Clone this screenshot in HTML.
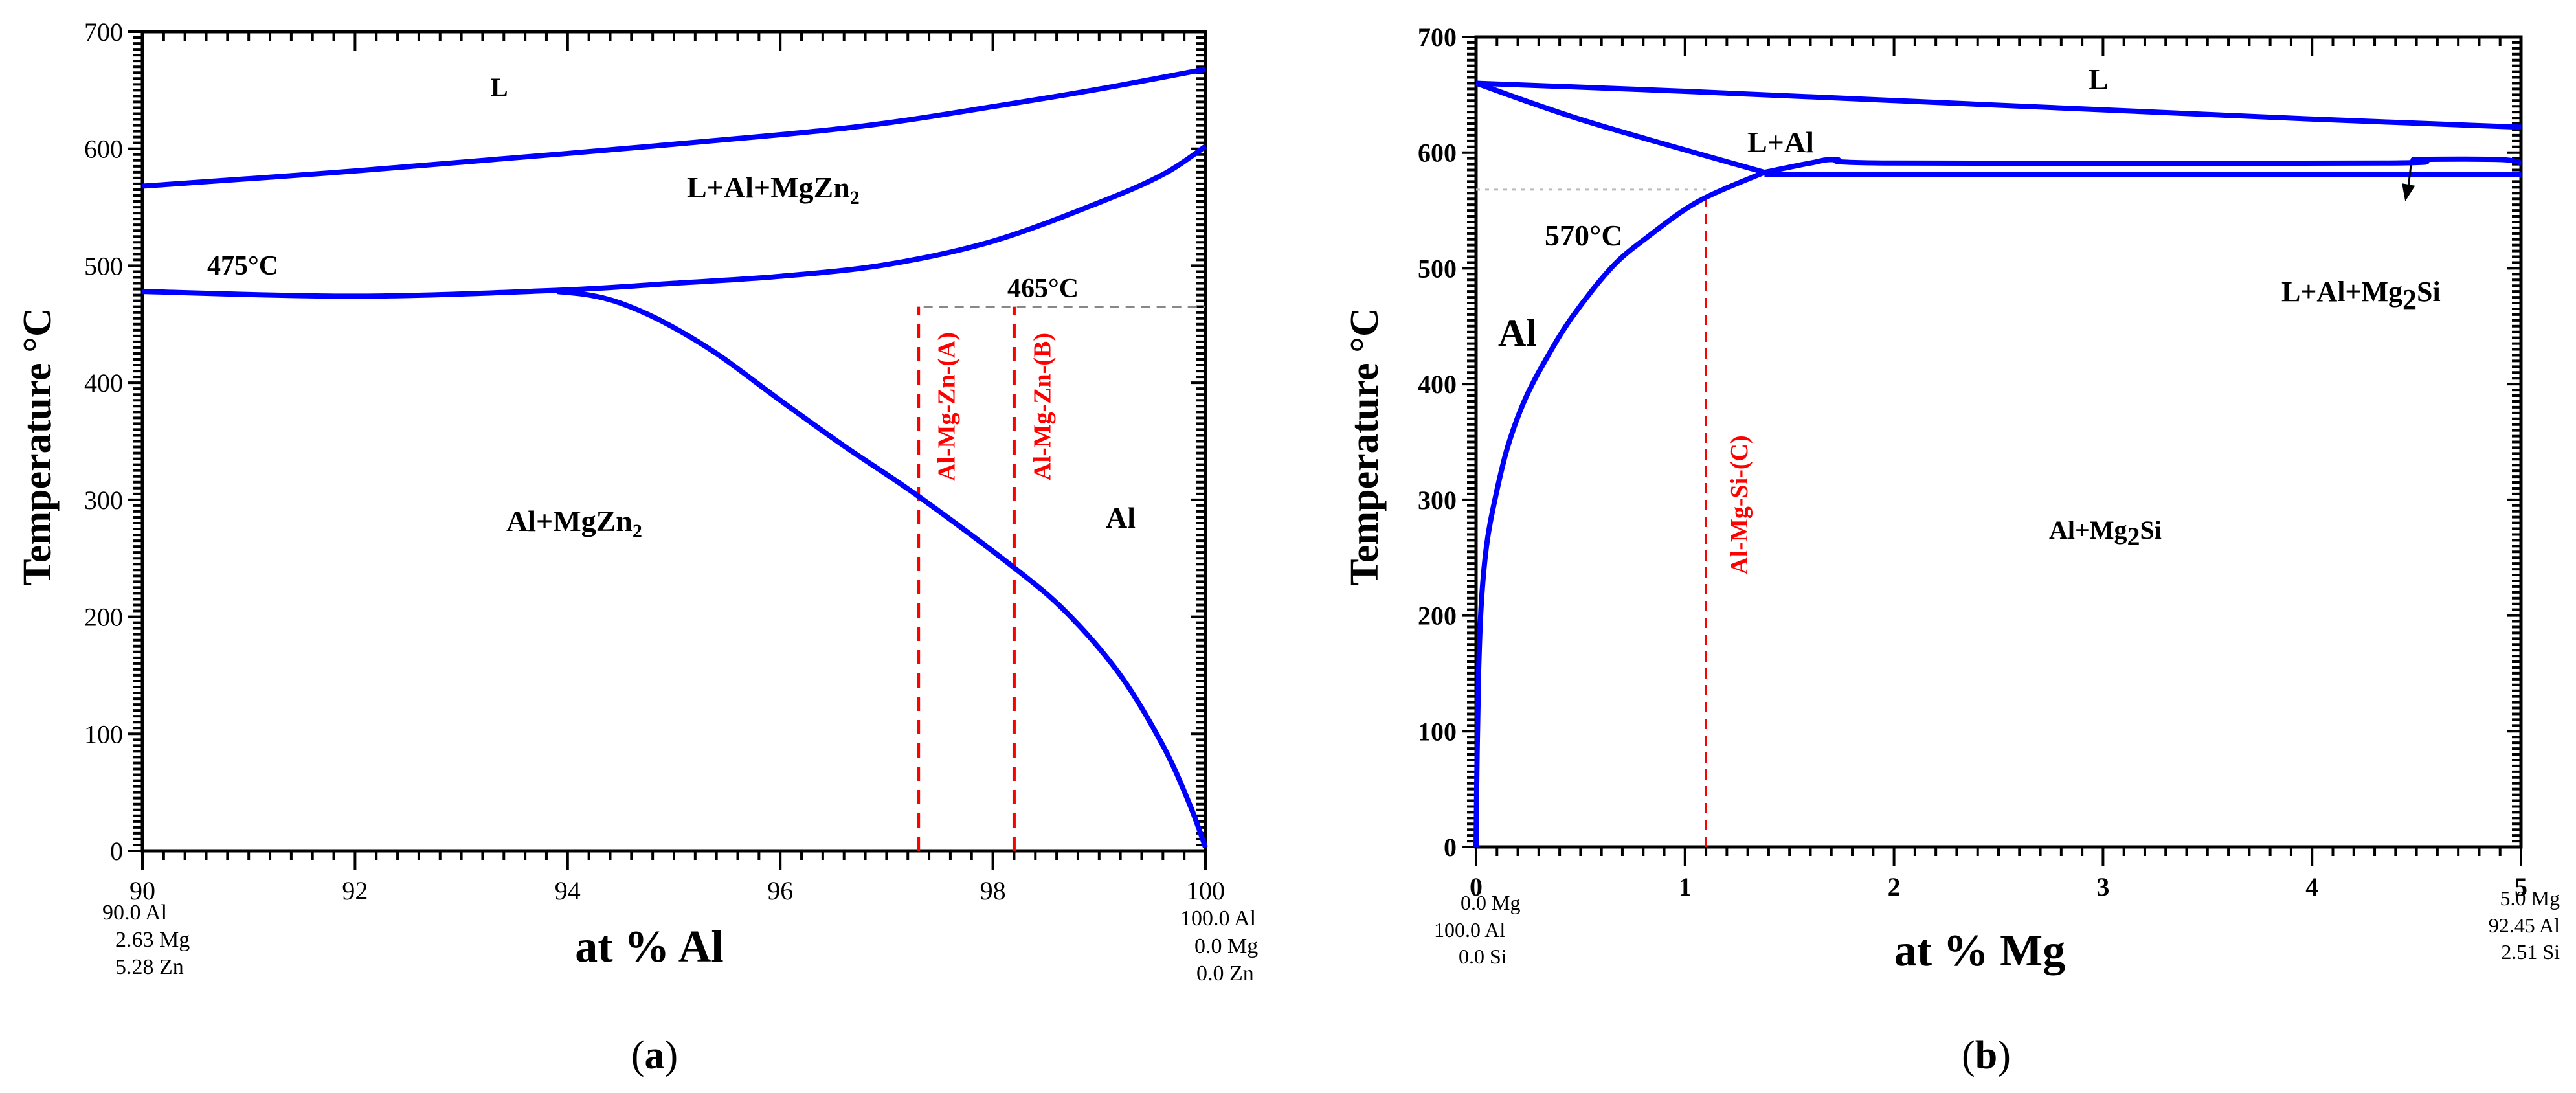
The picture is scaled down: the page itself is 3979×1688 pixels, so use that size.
<!DOCTYPE html>
<html><head><meta charset="utf-8"><style>
html,body{margin:0;padding:0;background:#fff;}
svg{display:block;font-family:"Liberation Serif",serif;}
</style></head><body>
<svg id="fig" width="3979" height="1688" viewBox="0 0 3979 1688" xmlns="http://www.w3.org/2000/svg">
<g id="pa"></g>
<g id="pb"></g>
</svg>
<script>
// ---------- Panel (a) data ----------
const aXTicks = [90, 92, 94, 96, 98, 100];
const aYTicks = [0, 100, 200, 300, 400, 500, 600, 700];
const aLiquidusX = [90, 92, 94, 96, 97, 98, 99, 100];
const aLiquidusT = [568, 581, 596, 612, 622, 636, 651, 668];
const aUpperX = [90, 92, 93.9, 95, 96, 97, 98, 99, 99.6, 100];
const aUpperT = [478, 474, 479, 485, 491, 501, 521, 554, 578, 602];
const aSolvusX = [93.9, 94.2, 94.5, 94.9, 95.4, 96, 96.6, 97.3, 98.2, 98.7, 99.2, 99.6, 99.85, 100];
const aSolvusT = [478, 475, 468, 452, 425, 385, 346, 303, 242, 203, 150, 90, 40, 3];
const aAlloyX = [97.3, 98.2];
const aAlloyNames = ["Al-Mg-Zn-(A)", "Al-Mg-Zn-(B)"];
const aSolidusRef = 465;

// ---------- Panel (b) data ----------
const bXTicks = [0, 1, 2, 3, 4, 5];
const bYTicks = [0, 100, 200, 300, 400, 500, 600, 700];
const bLiquidusX = [0, 1, 2, 3, 4, 5];
const bLiquidusT = [660, 653, 645, 637, 629, 622];
const bLAlX = [0, 0.53, 1.38];
const bLAlT = [660, 627, 583];
const bUpperX = [1.38, 1.6, 1.72, 2.0, 4.34, 4.5, 4.9, 5];
const bUpperT = [583, 591, 594, 591, 591, 594, 594, 591];
const bLowerX = [1.38, 5];
const bLowerT = [581, 581];
const bSolvusX = [0, 0.005, 0.012, 0.025, 0.05, 0.09, 0.15, 0.23, 0.33, 0.46, 0.65, 0.82, 1.065, 1.38];
const bSolvusT = [0, 80, 150, 210, 260, 300, 345, 385, 420, 458, 501, 527, 558, 583];
const bAlloyX = [1.1];
const bAlloyNames = ["Al-Mg-Si-(C)"];
const bSolvusRef = 568;

const NS = "http://www.w3.org/2000/svg";
function mk(parent, tag, attrs, text) {
  const e = document.createElementNS(NS, tag);
  for (const k in attrs) e.setAttribute(k, attrs[k]);
  if (text !== undefined) e.textContent = text;
  parent.appendChild(e);
  return e;
}
function lin(d0, d1, r0, r1) { return v => r0 + (v - d0) * (r1 - r0) / (d1 - d0); }
function smoothPath(pts) {
  let d = "M" + pts[0][0] + "," + pts[0][1];
  for (let i = 0; i < pts.length - 1; i++) {
    const p0 = pts[Math.max(0, i - 1)], p1 = pts[i], p2 = pts[i + 1], p3 = pts[Math.min(pts.length - 1, i + 2)];
    const c1 = [p1[0] + (p2[0] - p0[0]) / 6, p1[1] + (p2[1] - p0[1]) / 6];
    const c2 = [p2[0] - (p3[0] - p1[0]) / 6, p2[1] - (p3[1] - p1[1]) / 6];
    d += " C" + c1[0] + "," + c1[1] + " " + c2[0] + "," + c2[1] + " " + p2[0] + "," + p2[1];
  }
  return d;
}
function curve(g, xs, ts, X, Y, name) {
  const pts = xs.map((x, i) => [X(x), Y(ts[i])]);
  const p = mk(g, "path", {d: smoothPath(pts), fill: "none", stroke: "#0000ff", "stroke-width": 8, "stroke-linejoin": "round"});
  
  
}
function axes(g, X, Y, x0, x1, xTicks, yTicks, xMinor, boldTicks, tickFont) {
  const L = X(x0), R = X(x1), T = Y(700), B = Y(0);
  const frame = mk(g, "rect", {x: L, y: T, width: R - L, height: B - T, fill: "none", stroke: "#000", "stroke-width": 5});
  
  
  let d = "";
  for (let v = x0; v <= x1 + 1e-9; v += xMinor) {
    const x = X(v);
    const major = xTicks.some(t => Math.abs(t - v) < 1e-6);
    d += "M" + x + "," + B + "v" + (major ? 30 : 14);
    d += "M" + x + "," + T + "v" + (major ? 30 : 14);
  }
  for (let v = 0; v <= 700; v += 5) {
    const y = Y(v);
    const major = v % 100 === 0;
    d += "M" + L + "," + y + "h" + (major ? -22 : -14);
    d += "M" + R + "," + y + "h" + (major ? -22 : -14);
  }
  const tk = mk(g, "path", {d: d, stroke: "#000", "stroke-width": 4, fill: "none"});
  
  
  xTicks.forEach(t => {
    const e = mk(g, "text", {x: X(t), y: B + 75, "text-anchor": "middle", "font-size": tickFont, "font-weight": boldTicks ? "bold" : "normal"}, String(t));
    
    
  });
  yTicks.forEach(t => {
    const e = mk(g, "text", {x: L - 30, y: Y(t) + 14, "text-anchor": "end", "font-size": tickFont, "font-weight": boldTicks ? "bold" : "normal"}, String(t));
    
    
  });
}
function label(g, x, y, size, html, name, opts) {
  opts = opts || {};
  const e = mk(g, "text", Object.assign({x: x, y: y, "font-size": size, "font-weight": "bold"}, opts));
  e.innerHTML = html;
  
  
  return e;
}

// ---------- Panel (a) ----------
(function () {
  const g = document.getElementById("pa");
  const X = lin(90, 100, 220, 1862), Y = lin(0, 700, 1314, 49);
  axes(g, X, Y, 90, 100, aXTicks, aYTicks, 0.2, false, 40);
  const ref = mk(g, "line", {x1: X(aAlloyX[0]) + 8, y1: Y(aSolidusRef), x2: X(100), y2: Y(aSolidusRef), stroke: "#888", "stroke-width": 3, "stroke-dasharray": "14 10"});
  
  
  aAlloyX.forEach((ax, i) => {
    const l = mk(g, "line", {x1: X(ax), y1: Y(0), x2: X(ax), y2: Y(aSolidusRef), stroke: "#ff0000", "stroke-width": 5, "stroke-dasharray": "22 14"});
    
    
    const t = mk(g, "text", {x: 0, y: 0, "font-size": 38, "font-weight": "bold", fill: "#ff0000", "text-anchor": "middle", transform: "translate(" + (X(ax) + 56) + "," + 628 + ") rotate(-90)"}, aAlloyNames[i]);
    
    
  });
  curve(g, aLiquidusX, aLiquidusT, X, Y, 'liquidus-curve');
  curve(g, aUpperX, aUpperT, X, Y, 'three-phase-boundary');
  curve(g, aSolvusX, aSolvusT, X, Y, 'solvus-curve');
  label(g, 758, 148, 40, "L", "region-label-L");
  label(g, 1061, 305, 46, 'L+Al+MgZn<tspan font-size="30" dy="10">2</tspan>', "region-label-L-Al-MgZn2");
  label(g, 320, 424, 42, "475°C", "temp-label-475");
  label(g, 1556, 459, 42, "465°C", "temp-label-465");
  label(g, 782, 820, 46, 'Al+MgZn<tspan font-size="30" dy="10">2</tspan>', "region-label-Al-MgZn2");
  label(g, 1708, 815, 46, "Al", "region-label-Al");
  label(g, 0, 0, 62, "Temperature °C", "y-axis-title", {"text-anchor": "middle", transform: "translate(78,690) rotate(-90)"});
  label(g, 1003, 1485, 70, "at % Al", "x-axis-title", {"text-anchor": "middle"});
  [["90.0 Al", 158, 1420], ["2.63 Mg", 178, 1462], ["5.28 Zn", 178, 1504]].forEach(c => {
    const e = mk(g, "text", {x: c[1], y: c[2], "font-size": 34}, c[0]);
    
    
  });
  [["100.0 Al", 1823, 1429], ["0.0 Mg", 1845, 1472], ["0.0 Zn", 1848, 1514]].forEach(c => {
    const e = mk(g, "text", {x: c[1], y: c[2], "font-size": 34}, c[0]);
    
    
  });
  const cap = mk(g, "text", {x: 1011, y: 1650, "font-size": 62, "text-anchor": "middle"});
  cap.innerHTML = '(<tspan font-weight="bold">a</tspan>)';
  
  
})();

// ---------- Panel (b) ----------
(function () {
  const g = document.getElementById("pb");
  const X = lin(0, 5, 2280, 3894), Y = lin(0, 700, 1308, 57);
  axes(g, X, Y, 0, 5, bXTicks, bYTicks, 0.1, true, 40);
  const ref = mk(g, "line", {x1: X(0), y1: Y(bSolvusRef), x2: X(bAlloyX[0]), y2: Y(bSolvusRef), stroke: "#bbb", "stroke-width": 3, "stroke-dasharray": "6 8"});
  
  
  bAlloyX.forEach((ax, i) => {
    const l = mk(g, "line", {x1: X(ax), y1: Y(0), x2: X(ax), y2: Y(bSolvusRef - 3), stroke: "#ff0000", "stroke-width": 3.5, "stroke-dasharray": "16 10"});
    
    
    const t = mk(g, "text", {x: 0, y: 0, "font-size": 38, "font-weight": "bold", fill: "#ff0000", "text-anchor": "middle", transform: "translate(" + (X(ax) + 64) + "," + 780 + ") rotate(-90)"}, bAlloyNames[i]);
    
    
  });
  curve(g, bLiquidusX, bLiquidusT, X, Y, 'liquidus-line');
  curve(g, bLAlX, bLAlT, X, Y, 'l-al-boundary');
  curve(g, bUpperX, bUpperT, X, Y, 'three-phase-upper-line');
  curve(g, bLowerX, bLowerT, X, Y, 'three-phase-lower-line');
  curve(g, bSolvusX, bSolvusT, X, Y, 'al-solvus-curve');
  const ar = mk(g, "path", {d: "M3724,255 L3720,290 M3712,285 L3716,307 L3728,288 Z", stroke: "#000", "stroke-width": 3, fill: "#000"});
  
  
  label(g, 3226, 138, 46, "L", "region-label-L");
  label(g, 2699, 235, 46, "L+Al", "region-label-L-Al");
  label(g, 2386, 379, 46, "570°C", "temp-label-570");
  label(g, 2314, 534, 60, "Al", "region-label-Al");
  label(g, 3524, 465, 44, 'L+Al+Mg<tspan font-size="44" dy="12">2</tspan><tspan dy="-12">Si</tspan>', "region-label-L-Al-Mg2Si");
  label(g, 3165, 832, 40, 'Al+Mg<tspan dy="10">2</tspan><tspan dy="-10">Si</tspan>', "region-label-Al-Mg2Si");
  label(g, 0, 0, 62, "Temperature °C", "y-axis-title", {"text-anchor": "middle", transform: "translate(2128,690) rotate(-90)"});
  label(g, 3058, 1491, 70, "at % Mg", "x-axis-title", {"text-anchor": "middle"});
  [["0.0 Mg", 2256, 1405], ["100.0 Al", 2215, 1447], ["0.0 Si", 2253, 1488]].forEach(c => {
    const e = mk(g, "text", {x: c[1], y: c[2], "font-size": 32}, c[0]);
    
    
  });
  [["5.0 Mg", 1398], ["92.45 Al", 1440], ["2.51 Si", 1481]].forEach(c => {
    const e = mk(g, "text", {x: 3954, y: c[1], "font-size": 32, "text-anchor": "end"}, c[0]);
    
    
  });
  const cap = mk(g, "text", {x: 3068, y: 1650, "font-size": 62, "text-anchor": "middle"});
  cap.innerHTML = '(<tspan font-weight="bold">b</tspan>)';
  
  
})();
</script>
</body></html>
